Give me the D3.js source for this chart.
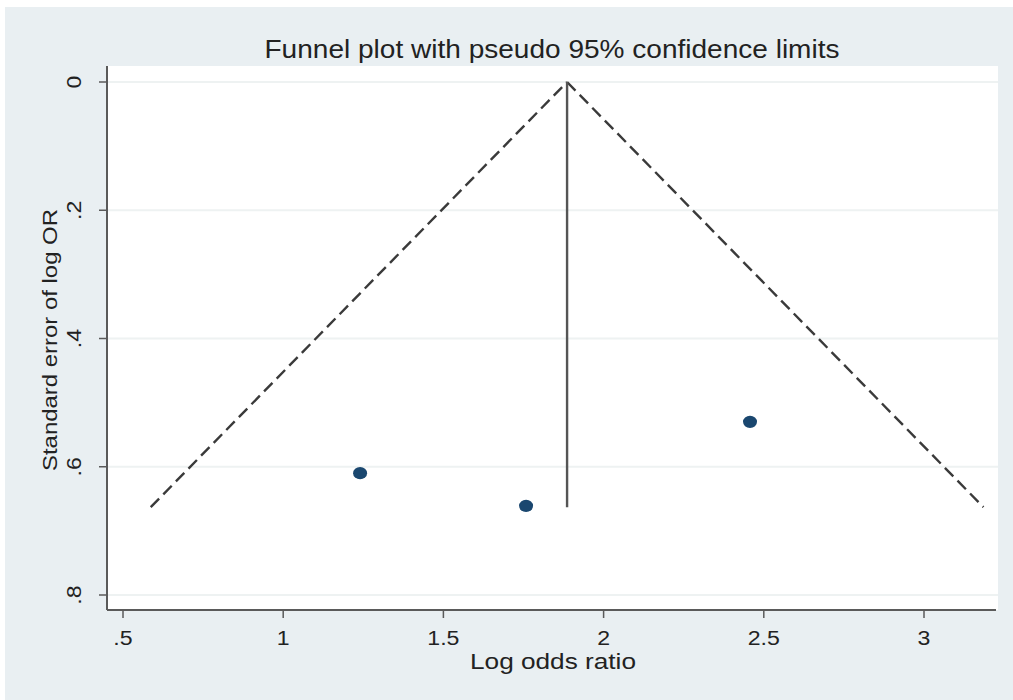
<!DOCTYPE html>
<html>
<head>
<meta charset="utf-8">
<script src="https://cdn.jsdelivr.net/npm/d3@7"></script>
<style>
  html, body { margin: 0; padding: 0; background: #ffffff; }
  svg { display: block; }
  text { font-family: "Liberation Sans", Arial, sans-serif; fill: #222222; }
</style>
</head>
<body>
<svg id="chart" width="1013" height="700"></svg>
<script>
// ---- data ----
const studyLogOR = [1.24, 1.758, 2.457];
const studySE    = [0.61, 0.661, 0.530];
const pooledLogOR = 1.886;
const maxSE = 0.663;
const xTicks = [0.5, 1, 1.5, 2, 2.5, 3];
const xTickLabels = [".5", "1", "1.5", "2", "2.5", "3"];
const yTicks = [0, 0.2, 0.4, 0.6, 0.8];
const yTickLabels = ["0", ".2", ".4", ".6", ".8"];
const titleText = "Funnel plot with pseudo 95% confidence limits";
const xTitle = "Log odds ratio";
const yTitle = "Standard error of log OR";
const z95 = 1.96;

const W = 1013, H = 700;
const svg = d3.select("#chart");

// outer graph region
svg.append("rect").attr("x", 0).attr("y", 0).attr("width", W).attr("height", H).attr("fill", "#ffffff");
svg.append("rect").attr("x", 5).attr("y", 7).attr("width", W - 5).attr("height", H - 7).attr("fill", "#e9eff2");

const plot = { left: 107, right: 998, top: 66, bottom: 610 };
const x = d3.scaleLinear().domain([0.5, 3]).range([123, 924]);
const y = d3.scaleLinear().domain([0, 0.8]).range([82, 595]);

// plot region
svg.append("rect")
  .attr("x", plot.left).attr("y", plot.top)
  .attr("width", plot.right - plot.left).attr("height", plot.bottom - plot.top)
  .attr("fill", "#ffffff");

// grid lines
svg.append("g").selectAll("line").data(yTicks).join("line")
  .attr("x1", plot.left).attr("x2", plot.right)
  .attr("y1", d => y(d)).attr("y2", d => y(d))
  .attr("stroke", "#eef2f2").attr("stroke-width", 2);

// funnel lines
const funnel = [
  [[pooledLogOR - z95 * maxSE, maxSE], [pooledLogOR, 0]],
  [[pooledLogOR, 0], [pooledLogOR + z95 * maxSE, maxSE]]
];
svg.append("g").selectAll("path").data(funnel).join("path")
  .attr("d", d3.line().x(d => x(d[0])).y(d => y(d[1])))
  .attr("fill", "none").attr("stroke", "#3a3a3a").attr("stroke-width", 2.4)
  .attr("stroke-dasharray", "12,6");

// pooled estimate line
svg.append("line")
  .attr("x1", x(pooledLogOR)).attr("x2", x(pooledLogOR))
  .attr("y1", y(0)).attr("y2", y(maxSE))
  .attr("stroke", "#555555").attr("stroke-width", 2.4);

// points
svg.append("g").selectAll("ellipse").data(studyLogOR).join("ellipse")
  .attr("cx", d => x(d)).attr("cy", (d, i) => y(studySE[i]))
  .attr("rx", 7).attr("ry", 6.2).attr("fill", "#1a476f");

// axes
const xAxis = svg.append("g").attr("transform", `translate(0,${plot.bottom})`);
xAxis.append("line").attr("x1", plot.left).attr("x2", plot.right - 2)
  .attr("stroke", "#5a5a5a").attr("stroke-width", 2);
xAxis.selectAll("line.tick").data(xTicks).join("line").attr("class", "tick")
  .attr("x1", d => x(d)).attr("x2", d => x(d)).attr("y1", 0).attr("y2", 8)
  .attr("stroke", "#5a5a5a").attr("stroke-width", 1.5);
xAxis.selectAll("text").data(xTicks).join("text")
  .attr("transform", d => `translate(${x(d)},35) scale(1.1,1)`)
  .attr("text-anchor", "middle").attr("font-size", 21)
  .text((d, i) => xTickLabels[i]);

const yAxis = svg.append("g").attr("transform", `translate(${plot.left},0)`);
yAxis.append("line").attr("y1", plot.top).attr("y2", plot.bottom)
  .attr("stroke", "#5a5a5a").attr("stroke-width", 2);
yAxis.selectAll("line.tick").data(yTicks).join("line").attr("class", "tick")
  .attr("y1", d => y(d)).attr("y2", d => y(d)).attr("x1", 0).attr("x2", -8)
  .attr("stroke", "#5a5a5a").attr("stroke-width", 1.5);
yAxis.selectAll("text").data(yTicks).join("text")
  .attr("transform", d => `translate(-26,${y(d)}) rotate(-90) scale(1.1,1)`)
  .attr("text-anchor", "middle").attr("font-size", 21)
  .text((d, i) => yTickLabels[i]);

// titles
svg.append("text").attr("x", 552).attr("y", 58)
  .attr("text-anchor", "middle").attr("font-size", 25)
  .attr("textLength", 575).attr("lengthAdjust", "spacingAndGlyphs")
  .text(titleText);
svg.append("text").attr("x", 553).attr("y", 669)
  .attr("text-anchor", "middle").attr("font-size", 22)
  .attr("textLength", 166).attr("lengthAdjust", "spacingAndGlyphs")
  .text(xTitle);
svg.append("text").attr("transform", `translate(57,340) rotate(-90)`)
  .attr("text-anchor", "middle").attr("font-size", 21)
  .attr("textLength", 262).attr("lengthAdjust", "spacingAndGlyphs")
  .text(yTitle);
</script>
</body>
</html>
